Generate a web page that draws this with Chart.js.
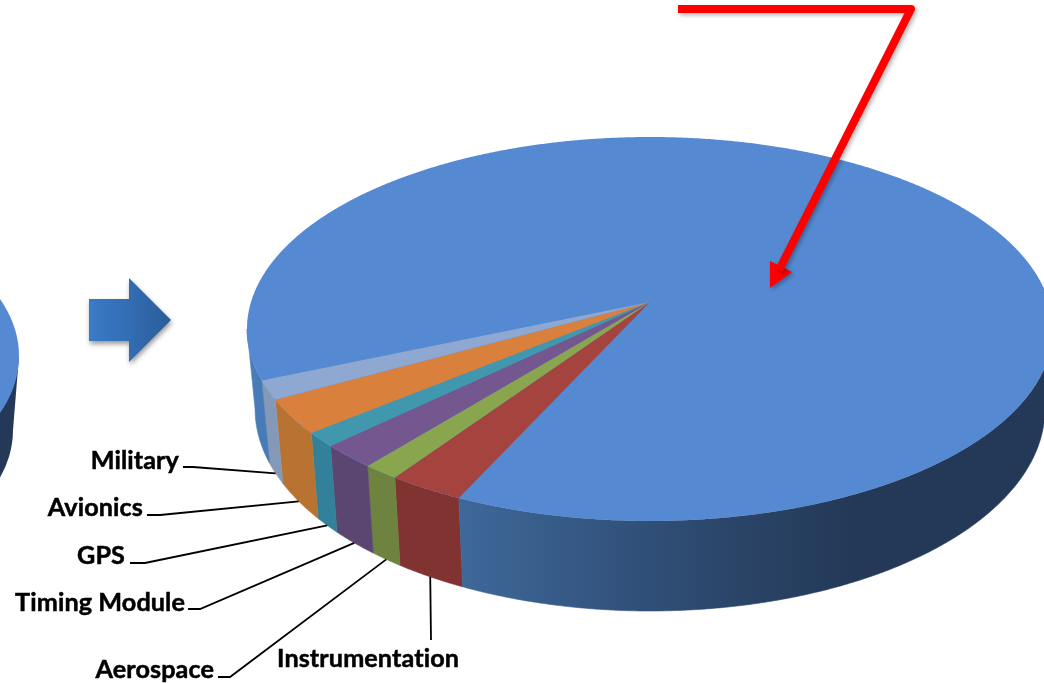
<!DOCTYPE html>
<html>
<head>
<meta charset="utf-8">
<title>Market share pie</title>
<script src="https://cdn.jsdelivr.net/npm/chart.js@4"></script>
<style>
  html, body { margin: 0; padding: 0; background: #fff; overflow: hidden; }
  canvas { display: block; }
</style>
</head>
<body>
<canvas id="pie" width="1044" height="683"></canvas>
<script>
// Values, in percent
const categories = ['Instrumentation', 'Aerospace', 'Timing Module', 'GPS', 'Avionics', 'Military', 'Other'];
const shares = [2.7, 1.3, 2.0, 1.2, 2.9, 1.6, 88.3];

const topColors = ['#a5433f', '#89a54e', '#74578f', '#4097ae', '#d9803c', '#8fa8d2', '#558ad3'];
const sideColors = ['#813332', '#6e8340', '#5b4671', '#33809a', '#b87333', '#8498b8', null];
const labeled = [true, true, true, true, true, true, false];

// label text anchor and the elbow of its leader line
const labelLayout = {
  'Instrumentation': { x: 277, y: 667, align: 'left', from: [431, 640] },
  'Aerospace': { x: 214, y: 678, align: 'right', from: [218, 677], elbow: [230, 677] },
  'Timing Module': { x: 185, y: 611, align: 'right', from: [188, 609], elbow: [200, 609] },
  'GPS': { x: 125, y: 564, align: 'right', from: [130, 563], elbow: [145, 563] },
  'Avionics': { x: 143, y: 516, align: 'right', from: [147, 515], elbow: [160, 515] },
  'Military': { x: 179, y: 469, align: 'right', from: [183, 467], elbow: [193, 467] }
};

// perspective of the disc: top face and bottom face
const persp = -0.1406;
const topFace = { cx: 650, cy: 302, ax: 399, by: 188.2 };
const bottomFace = { cx: 650, cy: 380.6, ax: 391, by: 198 };
const silhouette = 0.141; // angle where the wall meets the outline

function project(face, angle) {
  const u = Math.cos(angle), v = Math.sin(angle);
  const w = 1 + persp * v;
  return [face.cx + face.ax * u / w, face.cy + face.by * v / w];
}

function rimPoints(face, a0, a1) {
  const steps = Math.max(2, Math.ceil(Math.abs(a1 - a0) / 0.005));
  const pts = [];
  for (let i = 0; i <= steps; i++) pts.push(project(face, a0 + (a1 - a0) * i / steps));
  return pts;
}

function tracePath(ctx, pts) {
  ctx.beginPath();
  pts.forEach((p, i) => i ? ctx.lineTo(p[0], p[1]) : ctx.moveTo(p[0], p[1]));
  ctx.closePath();
}

function fillPath(ctx, pts, fill) {
  tracePath(ctx, pts);
  ctx.fillStyle = fill;
  ctx.fill();
}

// front part of the rim only, the back is hidden by the top face
function visibleSpans(a0, a1) {
  const spans = [];
  for (let k = -2; k <= 2; k++) {
    const lo = Math.max(a0, k * 2 * Math.PI + silhouette);
    const hi = Math.min(a1, k * 2 * Math.PI + Math.PI - silhouette);
    if (hi > lo) spans.push([lo, hi]);
  }
  return spans;
}

function mainSideGradient(ctx) {
  const g = ctx.createLinearGradient(247, 0, 1044, 0);
  g.addColorStop(0, '#4a7ebb');
  g.addColorStop(0.03, '#4679b5');
  g.addColorStop(0.27, '#3e6899');
  g.addColorStop(0.45, '#33547f');
  g.addColorStop(0.62, '#2a4467');
  g.addColorStop(0.76, '#243958');
  g.addColorStop(1, '#243958');
  return g;
}

function drawPreviousPie(ctx) {
  ctx.save();
  ctx.beginPath();
  ctx.ellipse(-187, 430, 200, 134, 0, 0, Math.PI * 2);
  ctx.fillStyle = '#243958';
  ctx.fill();
  fillPath(ctx, [[0, 356], [19, 356], [13, 430], [0, 430]], '#243958');
  ctx.beginPath();
  ctx.ellipse(-181, 356, 200, 134, 0, 0, Math.PI * 2);
  ctx.fillStyle = '#558ad3';
  ctx.fill();
  ctx.restore();
}

function drawBlueArrow(ctx) {
  ctx.save();
  const g = ctx.createLinearGradient(89, 0, 171, 0);
  g.addColorStop(0, '#3a7bc8');
  g.addColorStop(1, '#2b5d9b');
  ctx.shadowColor = 'rgba(0,0,0,0.4)';
  ctx.shadowBlur = 5;
  ctx.shadowOffsetX = 1;
  ctx.shadowOffsetY = 3;
  fillPath(ctx, [[89, 299], [129, 299], [129, 278], [171, 320], [129, 362], [129, 341], [89, 341]], g);
  ctx.restore();
}

function drawRedArrow(ctx) {
  ctx.save();
  ctx.shadowColor = 'rgba(0,0,0,0.3)';
  ctx.shadowBlur = 4;
  ctx.shadowOffsetX = 2;
  ctx.shadowOffsetY = 2;
  fillPath(ctx, [[770, 261], [792, 272], [770, 288]], '#ff0000');
  ctx.beginPath();
  ctx.moveTo(678, 9);
  ctx.lineTo(911, 9);
  ctx.lineTo(779, 270);
  ctx.strokeStyle = '#ff0000';
  ctx.lineWidth = 8;
  ctx.lineJoin = 'round';
  ctx.stroke();
  ctx.restore();
}

const pie3d = {
  id: 'pie3d',
  // the arcs get their angles from the library, only the drawing is projected
  beforeDatasetDraw(chart, args) {
    const ctx = chart.ctx;
    const arcs = chart.getDatasetMeta(args.index).data;

    drawPreviousPie(ctx);
    drawBlueArrow(ctx);

    ctx.save();
    arcs.forEach((arc, i) => {
      const color = sideColors[i] || mainSideGradient(ctx);
      visibleSpans(arc.startAngle, arc.endAngle).forEach(span => {
        const pts = rimPoints(topFace, span[0], span[1]).concat(rimPoints(bottomFace, span[1], span[0]));
        fillPath(ctx, pts, color);
        ctx.strokeStyle = color;
        ctx.lineWidth = 0.6;
        ctx.stroke();
      });
    });

    fillPath(ctx, rimPoints(topFace, 0, Math.PI * 2), topColors[topColors.length - 1]);
    arcs.forEach((arc, i) => {
      if (!labeled[i]) return;
      const pts = rimPoints(topFace, arc.startAngle, arc.endAngle);
      pts.push([topFace.cx, topFace.cy]);
      fillPath(ctx, pts, topColors[i]);
    });

    // leader lines and labels
    ctx.font = 'bold 25.2px Lato';
    ctx.letterSpacing = '0.1px'; // keeps the "ti" pair apart
    ctx.textBaseline = 'alphabetic';
    arcs.forEach((arc, i) => {
      if (!labeled[i]) return;
      const layout = labelLayout[categories[i]];
      const end = project(bottomFace, (arc.startAngle + arc.endAngle) / 2);
      ctx.strokeStyle = '#000';
      ctx.lineWidth = 1.8;
      ctx.beginPath();
      ctx.moveTo(layout.from[0], layout.from[1]);
      if (layout.elbow) ctx.lineTo(layout.elbow[0], layout.elbow[1]);
      ctx.lineTo(end[0], end[1]);
      ctx.stroke();
      ctx.textAlign = layout.align;
      ctx.fillStyle = '#000';
      ctx.fillText(categories[i], layout.x, layout.y);
      ctx.lineWidth = 0.5;
      ctx.strokeText(categories[i], layout.x, layout.y);
    });

    drawRedArrow(ctx);
    ctx.restore();
    return false;
  }
};

new Chart(document.getElementById('pie'), {
  type: 'pie',
  data: {
    labels: categories,
    datasets: [{ data: shares, backgroundColor: topColors, borderWidth: 0 }]
  },
  options: {
    responsive: false,
    animation: false,
    rotation: 204.7,
    plugins: { legend: { display: false }, tooltip: { enabled: false } }
  },
  plugins: [pie3d]
});
</script>
</body>
</html>
